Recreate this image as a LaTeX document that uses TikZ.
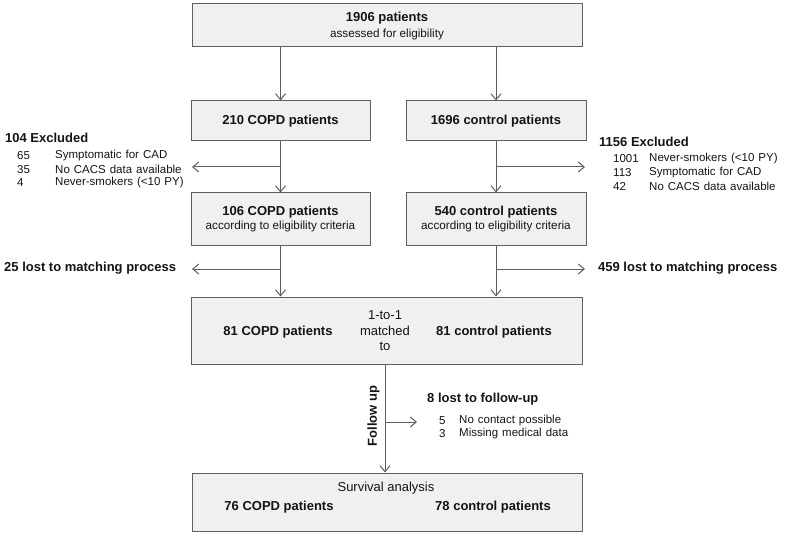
\documentclass[tikz,border=0pt]{standalone}
\usepackage{fontspec}
\setmainfont{Liberation Sans}
\usetikzlibrary{arrows.meta}
\definecolor{boxfill}{HTML}{F0F0F0}
\definecolor{boxline}{HTML}{5E5E5E}
\definecolor{txt}{HTML}{141414}
\newcommand\myitemfont{\fontsize{11.5}{13.5}\selectfont\spaceskip=4pt plus 1pt\relax}
\tikzset{
  box/.style={draw=boxline, fill=boxfill, line width=1pt, inner sep=0pt, text=txt},
  conn/.style={draw=boxline, line width=1pt},
  arr/.style={conn, -{Straight Barb[length=6pt,width=10pt,line width=1pt]}},
  hd/.style={font=\fontsize{13}{15}\selectfont\bfseries, text=txt, inner sep=0pt},
  it/.style={font=\myitemfont, text=txt, inner sep=0pt, anchor=west},
  sub/.style={font=\fontsize{11.7}{13.5}\selectfont, text=txt, inner sep=0pt},
  subl/.style={font=\fontsize{13}{15.5}\selectfont, text=txt, inner sep=0pt}
}
\begin{document}
\begin{tikzpicture}[x=1pt,y=-1pt]
\useasboundingbox (0,0) rectangle (786,537);
% boxes
\node[box, minimum width=390pt, minimum height=43pt] (top) at (387,25.5) {};
\node[hd] (topa) at (387,18) {1906 patients};
\node[sub] (topb) at (387,34) {assessed for eligibility};

\node[box, minimum width=179pt, minimum height=40pt] (copd1) at (280.5,121) {};
\node[hd] (copd1t) at (280.5,121) {210 COPD patients};
\node[box, minimum width=180pt, minimum height=40pt] (ctrl1) at (496,121) {};
\node[hd] (ctrl1t) at (496,121) {1696 control patients};

\node[box, minimum width=179pt, minimum height=52pt] (copd2) at (280.5,219) {};
\node[hd] (copd2a) at (280.5,212) {106 COPD patients};
\node[sub] (copd2b) at (280.5,226) {according to eligibility criteria};
\node[box, minimum width=180pt, minimum height=52pt] (ctrl2) at (496,219) {};
\node[hd] (ctrl2a) at (496,212) {540 control patients};
\node[sub] (ctrl2b) at (496,226) {according to eligibility criteria};

\node[box, minimum width=391pt, minimum height=67pt] (match) at (386.5,330.5) {};
\node[hd] (m1) at (278,332) {81 COPD patients};
\node[hd] (m3) at (494,332) {81 control patients};
\node[subl, align=center] (m2) at (385,331) {1-to-1\\matched\\to};

\node[box, minimum width=390pt, minimum height=58pt] (surv) at (387,502) {};
\node[subl] (s0) at (386,488) {Survival analysis};
\node[hd] (s1) at (279,507) {76 COPD patients};
\node[hd] (s2) at (493,507) {78 control patients};

% coordinates for free ends
\coordinate (exL) at (192,167);
\coordinate (exR) at (585,167);
\coordinate (lmL) at (192,269);
\coordinate (lmR) at (585,269);
\coordinate (fuR) at (417,422);

% vertical connectors
\draw[arr] (top.south -| copd1.north) -- (copd1.north);
\draw[arr] (top.south -| ctrl1.north) -- (ctrl1.north);
\draw[arr] (copd1.south) -- (copd2.north);
\draw[arr] (ctrl1.south) -- (ctrl2.north);
\draw[arr] (copd2.south) -- (match.north -| copd2.south);
\draw[arr] (ctrl2.south) -- (match.north -| ctrl2.south);
\draw[arr] (match.south -| m2.south) -- (surv.north -| m2.south);

% side arrows
\draw[arr] (exL -| copd1.south) -- (exL);
\draw[arr] (exR -| ctrl1.south) -- (exR);
\draw[arr] (lmL -| copd2.south) -- (lmL);
\draw[arr] (lmR -| ctrl2.south) -- (lmR);
\draw[arr] (fuR -| m2.south) -- (fuR);

% left excluded
\node[hd, anchor=west] (exLh) at (5,138) {104 Excluded};
\node[it] (l1n) at (17,156) {65};
\node[it] (l1t) at (55,156) {Symptomatic for CAD};
\node[it] (l2n) at (17,169.5) {35};
\node[it] (l2t) at (55,169.5) {No CACS data available};
\node[it] (l3n) at (17,183) {4};
\node[it] (l3t) at (55,183) {Never-smokers (<10 PY)};

% right excluded
\node[hd, anchor=west] (exRh) at (599,142) {1156 Excluded};
\node[it] (r1n) at (613,159) {1001};
\node[it] (r1t) at (649,159) {Never-smokers (<10 PY)};
\node[it] (r2n) at (613,172.5) {113};
\node[it] (r2t) at (649,172.5) {Symptomatic for CAD};
\node[it] (r3n) at (613,186) {42};
\node[it] (r3t) at (649,186) {No CACS data available};

% lost to matching
\node[hd, anchor=west] (lmLt) at (4,268.5) {25 lost to matching process};
\node[hd, anchor=west] (lmRt) at (598,268.5) {459 lost to matching process};

% follow up
\node[hd, rotate=90] (fu) at (373.5,416) {Follow up};
\node[hd, anchor=west] (fuh) at (427,399) {8 lost to follow-up};
\node[it] (f1n) at (439,420.5) {5};
\node[it] (f1t) at (459,420.5) {No contact possible};
\node[it] (f2n) at (439,434) {3};
\node[it] (f2t) at (459,434) {Missing medical data};
\end{tikzpicture}
\end{document}
